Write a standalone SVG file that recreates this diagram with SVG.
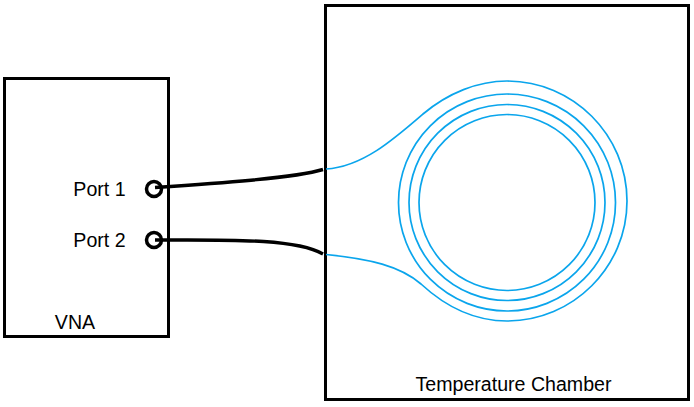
<svg xmlns="http://www.w3.org/2000/svg" width="694" height="407" viewBox="0 0 694 407">
<style>
.box{fill:none;stroke:#000;stroke-width:3}
.port{fill:#fff;stroke:#000;stroke-width:3.500}
.cable{fill:none;stroke:#000;stroke-width:3.400}
.fiber{fill:none;stroke:#0aa5ec;stroke-width:1.700}
text{font-family:"Liberation Sans",Arial,sans-serif;font-size:19.600px;fill:#000}
</style>
<rect width="694" height="407" fill="#fff"/>
<g id="chamber">
<rect class="box" x="325.500" y="5.500" width="363" height="394"/>
<text x="513.500" y="391" text-anchor="middle">Temperature Chamber</text>
</g>
<g id="vna">
<rect class="box" x="4.500" y="78.500" width="164" height="258"/>
<text x="75" y="329" text-anchor="middle">VNA</text>
</g>
<g id="port1">
<text x="99.500" y="195.500" text-anchor="middle">Port 1</text>
<circle class="port" cx="154" cy="189" r="7.500"/>
</g>
<g id="port2">
<text x="99.500" y="246.500" text-anchor="middle">Port 2</text>
<circle class="port" cx="154" cy="240" r="7.500"/>
</g>
<g id="coil">
<circle class="fiber" cx="507" cy="202.500" r="88"/>
<circle class="fiber" cx="507" cy="202.500" r="98"/>
<circle class="fiber" cx="507" cy="202.500" r="108.500"/>
</g>
<g id="connectors">
<path class="cable" d="M155 187.500C215 183.500 295 178 323 169.500"/>
<path class="cable" d="M155 240C225 240 295 238 323 254"/>
<path class="fiber" d="M326 169C362 167 393 140 423 114C448 93 478 81 507 81C573 81 627 135 627 201C627 267 573 321 507 321C475 321 447 308 421 284C400 266 370 259 326 254.500"/>
</g>
</svg>
